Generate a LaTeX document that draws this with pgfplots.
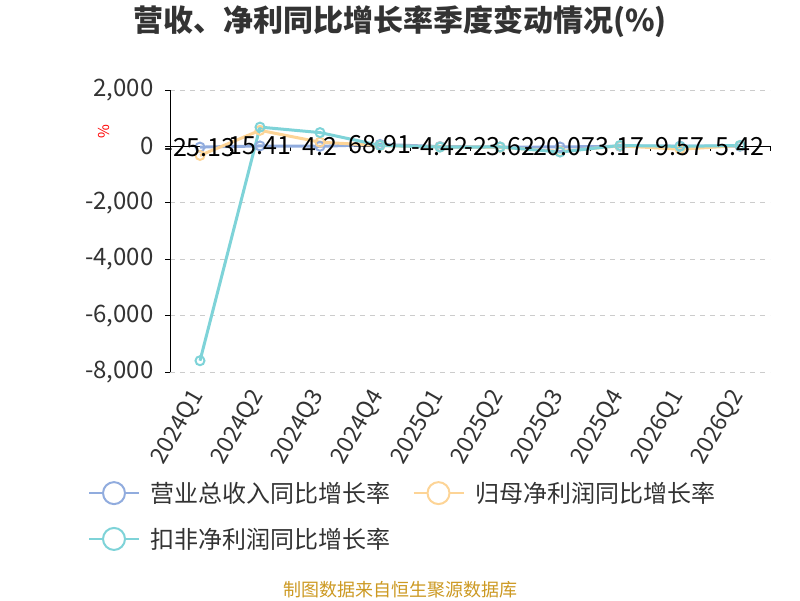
\documentclass[border=0pt]{standalone}
\usepackage{pgfplots}
\pgfplotsset{compat=1.18}
\usepackage{fontspec}
\setmainfont{Noto Sans CJK SC}
\definecolor{cblue}{RGB}{145,172,222}
\definecolor{corange}{RGB}{253,212,150}
\definecolor{cteal}{RGB}{126,211,216}
\definecolor{ctext}{RGB}{51,51,51}
\definecolor{cgrid}{RGB}{204,204,204}
\definecolor{cfoot}{RGB}{204,153,34}
\begin{document}
\begin{tikzpicture}[x=1pt,y=1pt]
\path[use as bounding box] (0,0) rectangle (800,600);
\node[font=\fontsize{30}{34}\selectfont\bfseries, text=ctext] at (400,578) {营收、净利同比增长率季度变动情况(\%)};
\node[font=\fontsize{18}{21}\selectfont, text=cfoot] at (400,10) {制图数据来自恒生聚源数据库};
\node[font=\fontsize{15}{17}\selectfont, text=red, rotate=90] at (104,468) {\%};
\begin{axis}[
  at={(170pt,228pt)}, anchor=south west,
  scale only axis, width=600pt, height=282pt,
  xmin=-0.5, xmax=9.5, ymin=-8000, ymax=2000,
  axis y line*=left, axis x line*=bottom,
  x axis line style={draw=none},
  y axis line style={draw=black, line width=1pt},
  xtick={0,...,9},
  xticklabels={2024Q1,2024Q2,2024Q3,2024Q4,2025Q1,2025Q2,2025Q3,2025Q4,2026Q1,2026Q2},
  major x tick style={draw=none},
  xticklabel style={yshift=-12pt, rotate=60, anchor=east, font=\fontsize{23}{27}\selectfont, text=ctext},
  ytick={-8000,-6000,-4000,-2000,0,2000},
  yticklabels={{-8,000},{-6,000},{-4,000},{-2,000},{0},{2,000}},
  yticklabel style={xshift=-8pt, font=\fontsize{24}{28}\selectfont, text=ctext},
  tick align=outside, major tick length=5pt,
  major y tick style={draw=black, line width=1pt},
  ymajorgrids, y grid style={cgrid, line width=1pt, dash pattern=on 5pt off 5pt},
  clip=false,
  legend columns=2,
  legend cell align=left,
  legend style={at={(-0.137,-0.383)}, anchor=north west, draw=none, fill=none, inner sep=0pt,
    font=\fontsize{24}{28}\selectfont, text=ctext,
    /tikz/every even column/.append style={column sep=20pt},
    row sep=20pt},
  legend image code/.code={
    \draw[#1, line width=2pt] (0pt,0pt) -- (50pt,0pt);
    \draw[#1, line width=2pt, fill=white] (25pt,0pt) circle (11pt);
    \path (58pt,0pt);
  },
]
\draw[black, line width=1pt] (axis cs:-0.5,0) -- (axis cs:9.5,0);
\pgfplotsinvokeforeach{-0.5,0.5,1.5,2.5,3.5,4.5,5.5,6.5,7.5,8.5,9.5}{
  \draw[black, line width=1pt] (axis cs:#1,0) -- ++(0pt,-5pt);
}
\addplot[cblue, line width=3pt, mark=o, mark size=4.5pt, mark options={fill=white, line width=2pt}] coordinates {
(0,-25.13) (1,15.41) (2,4.2) (3,68.91) (4,-4.42) (5,-23.62) (6,-20.07) (7,3.17) (8,9.57) (9,5.42)};
\addlegendentry{营业总收入同比增长率}
\addplot[corange, line width=3pt, mark=o, mark size=4.5pt, mark options={fill=white, line width=2pt}] coordinates {
(0,-320) (1,570) (2,150) (3,30) (4,-20) (5,-30) (6,-180) (7,20) (8,-100) (9,30)};
\addlegendentry{归母净利润同比增长率}
\addplot[cteal, line width=3pt, mark=o, mark size=4.5pt, mark options={fill=white, line width=2pt}] coordinates {
(0,-7600) (1,684) (2,490) (3,35) (4,-25) (5,-20) (6,-200) (7,35) (8,0) (9,35)};
\addlegendentry{扣非净利润同比增长率}
\addplot[draw=none, no marks, forget plot, point meta=explicit symbolic,
  nodes near coords, nodes near coords align={center},
  every node near coord/.append style={font=\fontsize{25}{28}\selectfont, text=black, anchor=center}]
  coordinates {
(0,-25.13) [-25.13] (1,15.41) [15.41] (2,4.2) [4.2] (3,68.91) [68.91] (4,-4.42) [-4.42] (5,-23.62) [-23.62] (6,-20.07) [-20.07] (7,3.17) [3.17] (8,9.57) [9.57] (9,5.42) [5.42]};
\end{axis}
\end{tikzpicture}
\end{document}
